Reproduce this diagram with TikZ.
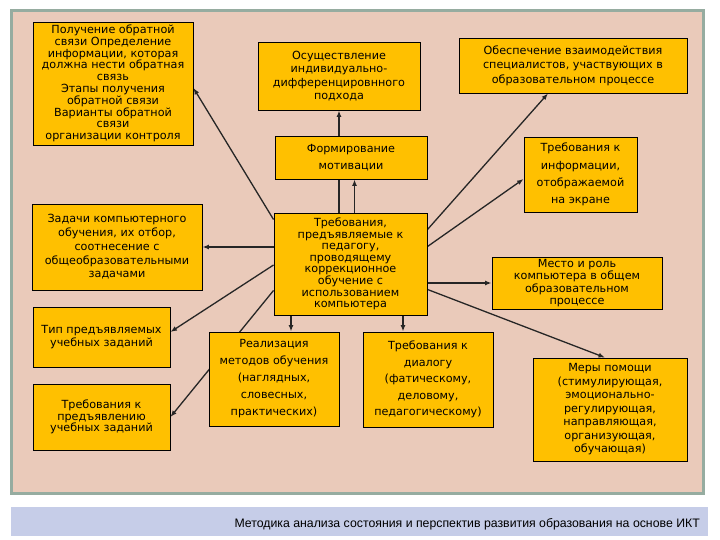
\documentclass[tikz,border=0pt]{standalone}
\usepackage{fontspec}
\setmainfont{DejaVu Sans}
\newfontfamily\barfont{Liberation Sans}
\usepackage{xcolor}
\usepackage{tikz}
\usetikzlibrary{positioning}
\usetikzlibrary{arrows.meta}
\definecolor{boxfill}{RGB}{255,192,0}
\definecolor{panelfill}{RGB}{234,202,186}
\definecolor{panelrim}{RGB}{150,172,160}
\definecolor{barfill}{RGB}{198,205,232}
\pgfdeclarelayer{panel}
\pgfdeclarelayer{links}
\pgfsetlayers{panel,links,main}
\tikzset{
    mybox/.style = {rectangle, draw=black, fill=boxfill, align=center, inner sep=0pt, line width=0.9pt},
    lead/.style = {font=\fontsize{11.2}{#1}\selectfont},
    lnk/.style = {-{Latex[length=6.5pt,width=5pt]}, line width=1.3pt, draw=black!85},
}

\begin{document}
\begin{tikzpicture}[x=1pt,y=-1pt]
\useasboundingbox (0,0) rectangle (720,540);
\begin{pgfonlayer}{panel}
\fill[white] (0,0) rectangle (720,540);
\draw[panelrim, fill=panelfill, line width=3pt] (11,11) rectangle (703,493);
\fill[barfill] (11,507) rectangle (708,536);
\end{pgfonlayer}
%
\node[mybox, lead=11.8, minimum width=160pt, minimum height=123pt] at (113,83.5) (fb) {Получение обратной\\связи Определение\\информации, которая\\должна нести обратная\\связь\\Этапы получения\\обратной связи\\Варианты обратной\\связи\\организации контроля};
\node[mybox, lead=13.3, minimum width=162pt, minimum height=68pt] at (339,76) (ind) {Осуществление\\индивидуально-\\дифференцировнного\\подхода};
\node[mybox, lead=14.5, minimum width=228pt, minimum height=55pt] at (573,65.5) (spec) {Обеспечение взаимодействия\\специалистов, участвующих в\\образовательном процессе};
\node[mybox, lead=17, minimum width=152pt, minimum height=43pt] at (351,157.5) (mot) {Формирование\\мотивации};
\node[mybox, lead=17.3, minimum width=113pt, minimum height=75pt] at (580.5,174.5) (info) {Требования к\\информации,\\отображаемой\\на экране};
\node[mybox, lead=11.6, minimum width=153pt, minimum height=102pt] at (350.5,264) (ped) {Требования,\\предъявляемые к\\педагогу,\\проводящему\\коррекционное\\обучение с\\использованием\\компьютера};
\node[mybox, lead=13.7, minimum width=170pt, minimum height=86pt] at (117,247) (task) {Задачи компьютерного\\обучения, их отбор,\\соотнесение с\\общеобразовательными\\задачами};
\node[mybox, lead=12.4, minimum width=170pt, minimum height=52pt] at (577,283) (place) {Место и роль\\компьютера в общем\\образовательном\\процессе};
\node[mybox, lead=12.5, minimum width=137pt, minimum height=60pt] at (101.5,337) (type) {Тип предъявляемых\\учебных заданий};
\node[mybox, lead=11.5, minimum width=137pt, minimum height=66pt] at (101.5,417) (req) {Требования к\\предъявлению\\учебных заданий};
\node[mybox, lead=17, minimum width=130pt, minimum height=94pt] at (274,379) (meth) {Реализация\\методов обучения\\(наглядных,\\словесных,\\практических)};
\node[mybox, lead=16.6, minimum width=130pt, minimum height=95pt] at (428,379.5) (dia) {Требования к\\диалогу\\(фатическому,\\деловому,\\педагогическому)};
\node[mybox, lead=13.5, minimum width=154pt, minimum height=103pt] at (610,409.5) (help) {Меры помощи\\(стимулирующая,\\эмоционально-\\регулирующая,\\направляющая,\\организующая,\\обучающая)};
%
\node[font=\barfont\fontsize{12.3}{14}\selectfont, anchor=base east, inner sep=0pt] at (700,527) (foot) {Методика анализа состояния и перспектив развития образования на основе ИКТ};
%
\begin{pgfonlayer}{links}
\draw[lnk] ([yshift=-7pt]ped.north west) -- ([yshift=-4.5pt]fb.east);
\draw[lnk] (ped.north -| ind.south) -- (ind.south);
\draw[lnk] ([xshift=4pt]ped.north) -- ([xshift=4pt]ped.north |- mot.south);
\draw[lnk] ([yshift=-17pt]ped.north east) -- ([xshift=-25pt]spec.south);
\draw[lnk] ([yshift=-34pt]ped.north east) -- ([yshift=-4.5pt]info.west);
\draw[lnk] (ped.east |- place.west) -- (place.west);
\draw[lnk] ([yshift=26pt]ped.south east) -- ([xshift=-5pt]help.north);
%
\draw[lnk] ([xshift=-25pt]dia.north |- ped.south) -- ([xshift=-25pt]dia.north);
\draw[lnk] ([xshift=17pt]meth.north |- ped.south) -- ([xshift=17pt]meth.north);
%
\draw[lnk] (ped.west |- task.east) -- (task.east);
\draw[lnk] ([yshift=-1pt]ped.west) -- ([yshift=5pt]type.east);
\draw[lnk] ([yshift=25pt]ped.south west) -- (req.east);
\end{pgfonlayer}
\end{tikzpicture}
\end{document}
